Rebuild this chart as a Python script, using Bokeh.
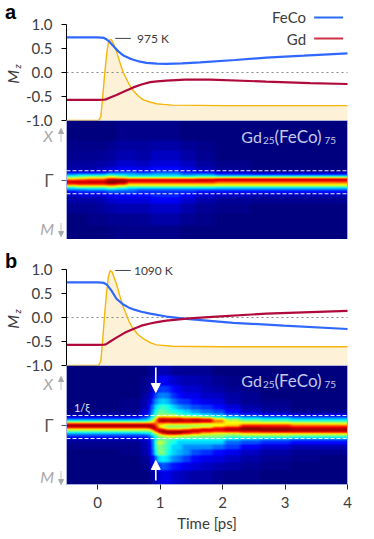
import numpy as np
from bokeh.plotting import figure
from bokeh.layouts import column
from bokeh.models import (Label, Arrow, NormalHead, LinearColorMapper, FixedTicker, Range1d)
from bokeh.embed import file_html
from bokeh.resources import INLINE

# ---- line data: panel a
T_FECO_A = [-0.5,0.0,0.06,0.1,0.13,0.18,0.25,0.33,0.41,0.5,0.57,0.68,0.78,0.95,1.1,1.35,1.64,2.2,2.7,3.3,4.0]
FECO_A   = [0.73,0.73,0.728,0.72,0.70,0.65,0.55,0.44,0.355,0.30,0.265,0.225,0.20,0.185,0.18,0.19,0.21,0.26,0.31,0.35,0.40]
T_GD_A   = [-0.5,0.0,0.1,0.13,0.2,0.3,0.45,0.57,0.7,0.84,0.95,1.1,1.4,1.8,2.7,3.4,4.0]
GD_A     = [-0.57,-0.57,-0.565,-0.56,-0.52,-0.47,-0.38,-0.31,-0.25,-0.20,-0.185,-0.17,-0.15,-0.15,-0.19,-0.22,-0.24]
T_TEMP_A = [-0.5,0.0,0.02,0.05,0.08,0.11,0.14,0.17,0.20,0.22,0.26,0.30,0.35,0.41,0.5,0.57,0.65,0.73,0.85,0.94,1.05,1.2,2.0,4.0]
TEMP_A   = [-1.0,-1.0,-0.99,-0.92,-0.5,-0.05,0.35,0.62,0.69,0.68,0.58,0.44,0.23,0.0,-0.24,-0.38,-0.49,-0.57,-0.62,-0.65,-0.665,-0.68,-0.69,-0.69]
# ---- line data: panel b
T_FECO_B = [-0.5,0.0,0.06,0.1,0.15,0.22,0.3,0.41,0.5,0.57,0.7,0.84,1.1,1.42,2.17,2.98,4.0]
FECO_B   = [0.73,0.73,0.728,0.72,0.68,0.56,0.39,0.27,0.205,0.17,0.12,0.08,0.02,-0.03,-0.11,-0.17,-0.24]
T_GD_B   = [-0.5,0.0,0.1,0.13,0.2,0.3,0.43,0.57,0.7,0.84,0.95,1.1,1.47,1.9,2.7,4.0]
GD_B     = [-0.57,-0.57,-0.565,-0.56,-0.50,-0.42,-0.32,-0.24,-0.17,-0.125,-0.095,-0.065,-0.02,0.02,0.08,0.14]
T_TEMP_B = [-0.5,0.0,0.02,0.05,0.08,0.11,0.14,0.17,0.20,0.23,0.30,0.35,0.41,0.5,0.57,0.65,0.73,0.85,0.94,1.2,2.0,4.0]
TEMP_B   = [-1.0,-1.0,-0.99,-0.9,-0.45,0.05,0.5,0.85,0.98,0.95,0.70,0.47,0.22,-0.08,-0.24,-0.36,-0.44,-0.53,-0.57,-0.60,-0.61,-0.61]

Y_TICKS = [-1.0,-0.5,0.0,0.5,1.0]
Y_LABELS = ["-1.0","-0.5","0.0","0.5","1.0"]
X_TICKS = [0,1,2,3,4]

# ---- heat map intensities (levels on a 0..15 scale), rows from top to bottom
ROW_SPANS_A = [20,10,10,6,4,2,2,2,2,2,2,2,2,2,2,3,4,6,10,12,14]
COL_SPANS_A = [10,10,10,10,10,10,10,14,15,15,15,20,35,50,47]
HEAT_A = [
 [0,0,0,0,0,.2,.2,.2,.2,.2,0,0,0,0,0],
 [.2,.2,.2,.2,.3,.5,.5,.5,.6,.6,.4,.2,0,0,0],
 [.3,.3,.3,.4,.5,.8,.8,.6,1,1,.6,.3,0,0,0],
 [.5,.5,.5,.6,.8,1.2,1.2,1,1.4,1.4,1,.5,.2,0,0],
 [.7,.7,.7,1,1.3,1.8,1.8,1.5,2,2,1.4,.8,.3,.1,.1],
 [1.2,1.2,1.2,1.5,2,2.5,2.5,2,2.6,2.6,2,1.5,.8,.4,.4],
 [3,3,3,3,4,4,4,3.5,4,4,3,3,2,1.5,1.5],
 [5,6,6,6,7,6,5,5,5,5,4.5,5,4,4,4],
 [8,8,9,9,10,9,8,8,8,8,8,8.5,9,9,9],
 [11,11.5,12,12,14,14,13.5,13.5,13.5,13.5,13.5,14,14.5,14.5,14.5],
 [14,14,14,14,15,15,13.5,13.5,13.5,13.5,13.5,13.5,12.5,12.5,12.5],
 [13,13.5,13.5,13.5,14.5,13.5,11,11,11,11,11,11,10.5,10.5,10.5],
 [10,10.5,10.5,10.5,11,10,9,9,9,9,9,9,9,9,9],
 [6,7,7,7,8,7,6,6,6,6,6,6,5.5,5.5,5.5],
 [4,4,4.5,4.5,5,4.5,4,3.5,3.5,3.5,3.5,3.5,3.5,3.5,3.5],
 [2,2.5,2.5,2.5,3,3,3,2.5,2.5,2.5,2.5,2,2,2,2],
 [1,1.3,1.3,1.3,1.8,2,2,2,2.4,2.4,1.8,1.2,1,.8,.8],
 [.6,.6,.6,.8,1.2,1.4,1.4,1.4,1.8,1.8,1.2,.7,.4,.3,.3],
 [.3,.3,.3,.5,.7,.8,.8,.8,1.1,1.1,.7,.3,.2,0,0],
 [0,0,.2,.2,.3,.3,.3,.4,.6,.6,.3,.2,0,0,0],
 [0,0,0,0,.1,.2,.2,.2,.2,.2,0,0,0,0,0],
]
ROW_SPANS_B = [10,10,7,6,6,5,4,3,2,2,2,2,2,2,2,2,2,2,2,2,4,5,6,7,8,14]
COL_SPANS_B = [24,30,20,8,4,4,4,5,5,6,6,8,10,12,12,16,20,30,30,27]
HEAT_B = [
 [0,0,0,0,.3,.6,.8,.8,.8,.4,.4,.3,.3,.3,0,0,0,0,0,0],
 [0,0,0,.2,.6,1,1.6,1.8,1.6,1.2,1,.8,.8,.6,.3,.2,0,0,0,0],
 [0,0,0,.3,.8,1.6,2.6,2.8,2.6,2,1.6,1.2,1.2,.8,.6,.3,.2,0,0,0],
 [0,0,0,.5,1.2,2.6,3.6,3.8,3.6,2.6,2,1.6,1.6,1.1,1,.6,.3,0,0,0],
 [0,0,.2,.7,1.6,3.6,4.6,5,4.6,3.6,2.8,2.6,2,1.6,1.4,.7,.3,.2,0,0],
 [0,0,.2,.8,2.6,4.6,6,6.5,6,5,4.2,3.6,3,2.6,2,1.4,.7,.3,0,0],
 [.2,.2,.3,1.2,3,5.2,7,7,6.5,6,5.5,5,4.2,3.6,3,2,1,.6,.3,.3],
 [.8,.8,.8,1.8,3.6,6,8,8,8,8,7,6.5,6,5.2,4.6,3.2,2.6,2,1.6,1.6],
 [2,2,2,3,5,7,11,11.5,11,11,11,10,10,9,7,5.5,4.5,4,3.5,3.5],
 [4,4,4,4.5,6,9,13.5,14.5,14,14,14.5,13.5,14,13.5,10.5,8,6.5,6,5,5],
 [7,7,7,7,8,10,13.5,14.5,14,14.5,14,14,14.5,14,11.5,9,8,7.5,7,7],
 [12,12,12,12,12,12,11,11,10.5,11,11,11,10.5,10,10,9.5,10,10,9.5,9],
 [15,15,15,15,15,13.5,10,9,8,8,8,8,8,8,9,10,12.5,12.5,11.5,11.5],
 [13,13,13,13,14,15,11,9,8,8,8,8,9,10,12,13,14.5,14,13.5,13.5],
 [9,9,9,9,10,14,14,13,11,11,11,12,13,14,14,14.5,15,15,14.5,14.5],
 [7,7,7,7,7,10,14,15,15,14.5,15,14.5,14,13,12.5,13,13.5,14,14,14],
 [4.5,4.5,4.5,5,5.5,8,10,13,14,14.5,14,13,11.5,10,9,9,10,10,10,10],
 [3,3,3,3,4,6,8,9,10,10,9.5,9,8.5,8,8,7.5,8,8,7.5,7.5],
 [2,2,2,2,3,5,7,7.5,8,8,7.5,7.5,7,7,7,6,6,6,5.5,5.5],
 [1,1,1,1.5,2.5,5,7,7,7,6.5,6,6,6,6,6,5,4.5,4,3.5,3.5],
 [.3,.3,.3,.8,2,5,9,8,6.5,6,5,5,5,5,5,3.5,3,2.5,2,2],
 [.2,.2,.2,.7,1.8,5,8,7,6.5,5,5,4,4,4,3.5,2.8,1.8,1.2,.8,.8],
 [0,0,.2,.6,1.6,4.6,7.5,7.5,6,5,4.5,4,3,2.6,2,1.6,1,.6,.3,.3],
 [0,0,0,.3,1,2.6,5,5.5,5,4,3.5,2.8,2,1.6,1.4,1,.6,.3,.2,0],
 [0,0,0,.2,.7,1.6,2.6,3.2,2.8,2.2,2,1.6,1.4,1,.8,.6,.3,.2,0,0],
 [0,0,0,0,.3,.6,1.2,1.6,1.6,1.2,1,.8,.6,.6,.3,.2,.2,0,0,0],
]

FONT = "Lato"
TXT = "#3c3c3c"
BLUE = "#3068ff"
RED = "#b00a3c"
YEL = "#f5b50a"
FILL = "#fdf2d8"
XR = (-0.5, 4.0)
PX = 281 / 4.5
FRAME_X = (XR[0] - 66 / PX, XR[1] + 27 / PX)   # the frame spans the whole canvas so labels beside the plot are not clipped
BLUR_COLS = np.ones(5) / 5
BLUR_ROWS = np.array([0.25, 0.5, 0.25])

def jet(n=256):
    out = []
    for v in np.linspace(0, 1, n):
        r = np.clip(min(4*v-1.5, -4*v+4.5), 0, 1)
        g = np.clip(min(4*v-0.5, -4*v+3.5), 0, 1)
        b = np.clip(min(4*v+0.5, -4*v+2.5), 0, 1)
        out.append("#%02x%02x%02x" % (int(r*255), int(g*255), int(b*255)))
    return out

mapper = LinearColorMapper(palette=jet(), low=0, high=15)

def soften(a):
    # display softening, like the resampling of the image in the source figure
    a = np.pad(a, ((1, 1), (2, 2)), mode="edge")
    a = np.apply_along_axis(lambda c: np.convolve(c, BLUR_ROWS, mode="valid"), 0, a)
    a = np.apply_along_axis(lambda r: np.convolve(r, BLUR_COLS, mode="valid"), 1, a)
    return a

def label(p, x, y, text, size, color=TXT, align="left", style="normal", angle=0.0, font=FONT):
    p.add_layout(Label(x=x, y=y, text=text, text_font=font, text_font_size=f"{size}px",
                       text_color=color, text_align=align, text_baseline="middle",
                       text_font_style=style, angle=angle))

def base(height, yr, margin):
    p = figure(width=374, height=height, x_range=Range1d(*FRAME_X), y_range=Range1d(*yr),
               output_backend="svg", toolbar_location=None, frame_width=374, frame_height=height,
               min_border_left=0, min_border_right=0, min_border_top=0, min_border_bottom=0,
               margin=margin, background_fill_alpha=0, border_fill_alpha=0, outline_line_color=None)
    p.xgrid.visible = False
    p.ygrid.visible = False
    return p

def line_panel(t_f, fe, t_g, gd, t_t, te, height, top_mz, tag, tag_y, kelvin, ky, kx):
    p = base(height, (-1.0 - 10/48, top_mz), (0, 0, -10, 0))
    p.xaxis.visible = False
    ax = p.yaxis[0]
    ax.fixed_location = XR[0]
    ax.bounds = (-1.0, 1.0)
    ax.ticker = FixedTicker(ticks=Y_TICKS)
    ax.major_label_overrides = dict(zip(Y_TICKS, Y_LABELS))
    ax.major_tick_in = 0
    ax.major_tick_out = 5
    ax.minor_tick_line_color = None
    ax.axis_line_color = "#000000"
    ax.major_tick_line_color = "#000000"
    ax.major_label_text_font = FONT
    ax.major_label_text_font_size = "15px"
    ax.major_label_text_color = TXT
    ax.major_label_standoff = 9

    p.varea(x=t_t, y1=[-1.0]*len(t_t), y2=te, fill_color=FILL)
    p.segment(x0=[XR[0]], y0=[0.0], x1=[XR[1]], y1=[0.0], line_color="#888888", line_dash="2 3", line_width=1)
    p.line(t_t, te, line_color=YEL, line_width=1.4)
    p.line(t_f, fe, line_color=BLUE, line_width=2.2)
    p.line(t_g, gd, line_color=RED, line_width=2.2)
    p.segment(x0=[0.28], y0=[ky], x1=[0.53], y1=[ky], line_color="#444444", line_width=1)
    label(p, kx, ky, kelvin, 12)
    label(p, -1.485, tag_y, tag, 20, color="#000000", style="bold", font="Liberation Sans")
    label(p, -1.37, -0.09, "M", 16, angle=np.pi/2, style="italic", align="center")
    label(p, -1.29, 0.125, "z", 10, angle=np.pi/2, style="italic", align="center")
    return p

def heat_panel(matrix, rows, cols, dash_up, dash_dn, below, xy):
    arr = soften(np.repeat(np.repeat(np.array(matrix, dtype=float), rows, axis=0), cols, axis=1)[::-1])
    bb = 48 if below else 0
    p = base(119 + bb, (-59.5 - bb, 59.5), (0, 0, 0, 0))
    ay = p.yaxis[0]
    ay.fixed_location = XR[0]
    ay.ticker = FixedTicker(ticks=[0])
    ay.major_label_overrides = {0: "Γ"}
    ay.axis_line_color = None
    ay.major_tick_in = 0
    ay.major_tick_out = 5
    ay.major_tick_line_color = "#555555"
    ay.minor_tick_line_color = None
    ay.major_label_text_font = FONT
    ay.major_label_text_font_size = "17px"
    ay.major_label_text_color = "#555555"
    ay.major_label_standoff = 8
    ax = p.xaxis[0]
    if below:
        ax.fixed_location = -59.5
        ax.ticker = FixedTicker(ticks=X_TICKS)
        ax.major_tick_in = 0
        ax.major_tick_out = 5
        ax.minor_tick_line_color = None
        ax.axis_line_color = None
        ax.major_tick_line_color = "#222222"
        ax.major_label_text_font = FONT
        ax.major_label_text_font_size = "15px"
        ax.major_label_text_color = TXT
        ax.major_label_standoff = 7
        label(p, 1.75, -97.5, "Time [ps]", 15, align="center")
    else:
        ax.visible = False
    p.image(image=[arr], x=XR[0], y=-59.5, dw=XR[1]-XR[0], dh=119, color_mapper=mapper)
    p.quad(left=[XR[0]], right=[XR[1]], bottom=[-59.5], top=[59.5], fill_color=None, line_color="#a8aee0", line_width=1)
    p.segment(x0=[XR[0], XR[0]], y0=[dash_up, dash_dn], x1=[XR[1], XR[1]], y1=[dash_up, dash_dn],
              line_color="#ffffff", line_dash="4 2", line_width=1.1, line_alpha=0.95)
    c = "#c4cbea"
    # composition label in four pieces so the subscripts sit low
    label(p, 2.30, xy[0], "Gd", 16, color=c)
    label(p, 2.645, xy[0]-3.5, "25", 10, color=c)
    label(p, 2.83, xy[0], "(FeCo)", 17, color=c)
    label(p, 3.63, xy[0]-3.5, "75", 10, color=c)
    g = "#aaaaaa"
    label(p, -0.796, xy[1], "X", 16, color=g, align="center", style="italic")
    label(p, -0.81, xy[2], "M", 16, color=g, align="center", style="italic")
    ux = -0.587
    p.add_layout(Arrow(x_start=ux, y_start=xy[1]-6, x_end=ux, y_end=xy[1]+7, line_color=g, line_width=1.4,
                       line_dash="1 1", end=NormalHead(size=5, fill_color=g, line_color=g)))
    p.add_layout(Arrow(x_start=ux, y_start=xy[2]+5, x_end=ux, y_end=xy[2]-8, line_color=g, line_width=1.4,
                       line_dash="1 1", end=NormalHead(size=5, fill_color=g, line_color=g)))
    return p

p1 = line_panel(T_FECO_A, FECO_A, T_GD_A, GD_A, T_TEMP_A, TEMP_A, 130, 1.5, "a", 1.27, "975 K", 0.71, 0.63)
# legend
label(p1, 3.336, 1.146, "FeCo", 15, align="right")
label(p1, 3.336, 0.708, "Gd", 15, align="right")
p1.segment(x0=[3.465], y0=[1.146], x1=[3.93], y1=[1.146], line_color="#2a6cf0", line_width=2.2)
p1.segment(x0=[3.465], y0=[0.708], x1=[3.93], y1=[0.708], line_color="#cc3344", line_width=2.2)

p2 = heat_panel(HEAT_A, ROW_SPANS_A, COL_SPANS_A, 9.2, -13.8, False, (43.5, 44.5, -48.5))
p3 = line_panel(T_FECO_B, FECO_B, T_GD_B, GD_B, T_TEMP_B, TEMP_B, 136, 1.625, "b", 1.167, "1090 K", 0.98, 0.58)
p4 = heat_panel(HEAT_B, ROW_SPANS_B, COL_SPANS_B, 9.5, -13.5, True, (44.5, 41.5, -51.5))
label(p4, -0.38, 17.5, "1/ξ", 11, color="#dfe4f5")
for y0, y1 in [(57.5, 32.5), (-55.5, -35.5)]:
    p4.add_layout(Arrow(x_start=0.93, y_start=y0, x_end=0.93, y_end=y1, line_color="#ffffff", line_width=1.6,
                        end=NormalHead(size=9, fill_color="#ffffff", line_color="#ffffff")))

page = column(p1, p2, p3, p4, spacing=0)
open("out.html", "w").write(file_html(page, INLINE))
